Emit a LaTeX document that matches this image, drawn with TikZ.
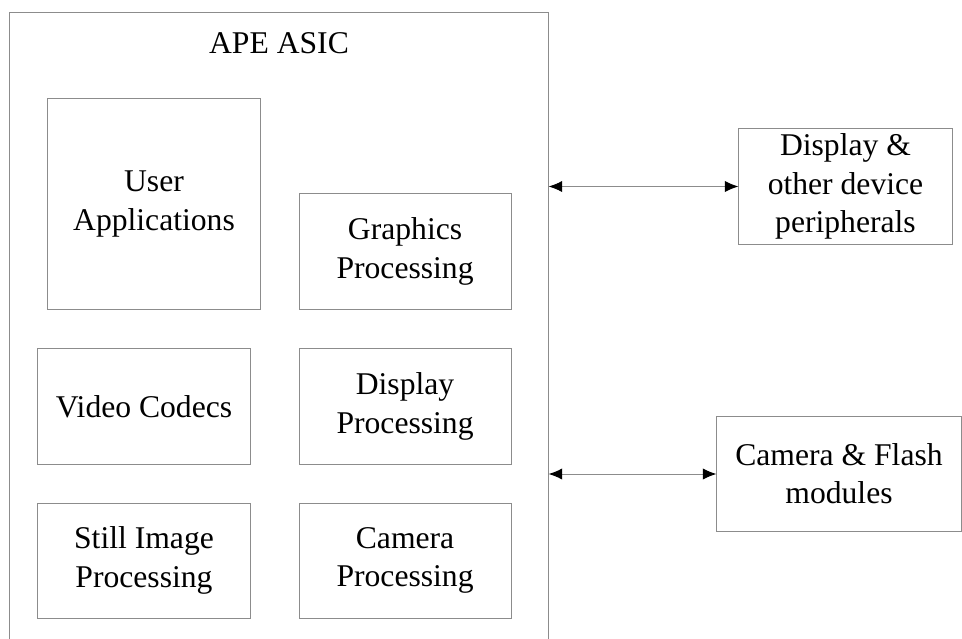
\documentclass[tikz,border=0pt]{standalone}
\usepackage{fontspec}
\setmainfont{Liberation Serif}
\usetikzlibrary{arrows.meta,positioning}
\definecolor{linegray}{RGB}{140,140,140}
\tikzset{
  block/.style={rectangle, draw=linegray, line width=0.7pt, align=center, inner sep=0pt,
    minimum width=5.3cm, minimum height=2.875cm},
  link/.style={{Latex[length=3.4mm,width=2.8mm,color=black]}-{Latex[length=3.4mm,width=2.8mm,color=black]},
    draw=linegray, line width=0.7pt}
}
\begin{document}
\begin{tikzpicture}[x=0.025cm, y=-0.025cm, node distance=0.975cm and 1.2cm,
    font=\fontsize{22.5}{27.2}\selectfont]
      \useasboundingbox (0,0) rectangle (962,639);
      \clip (0,0) rectangle (962,639);

      % Define blocks
      \node[block, minimum width=13.45cm, minimum height=16.675cm] (asic) at (279,346.5) {};
      \node[anchor=base] (title) at (279,53) {APE ASIC};
      \node[block] (vid) at (144,406.5) {Video Codecs};
      \node[block, right=of vid] (disp) {Display\\Processing};
      \node[block, below=0.95cm of vid] (still) {Still Image\\Processing};
      \node[block, below=0.95cm of disp] (cam) {Camera\\Processing};
      \node[block, above=of disp] (gfx) {Graphics\\Processing};
      \node[block, minimum height=5.25cm, above=of vid, xshift=0.25cm] (user) {User\\Applications};
      \node[block, minimum width=5.325cm] (periph) at (845.5,186.5) {Display \&\\other device\\peripherals};
      \node[block, minimum width=6.1cm, minimum height=2.85cm] (flash) at (839,474) {Camera \& Flash\\modules};

      % Define links
      \draw[link] (asic.east |- periph.west) -- (periph.west);
      \draw[link] (asic.east |- flash.west) -- (flash.west);

\end{tikzpicture}
\end{document}
